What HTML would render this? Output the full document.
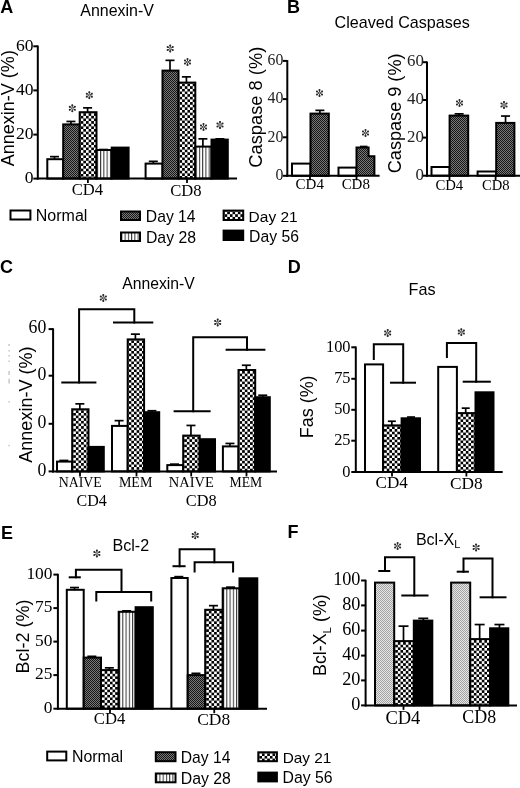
<!DOCTYPE html>
<html><head><meta charset="utf-8"><title>Figure</title>
<style>
html,body{margin:0;padding:0;background:#fff;}
body{width:520px;height:788px;overflow:hidden;font-family:"Liberation Sans",sans-serif;}
svg{display:block;will-change:transform;}
</style></head>
<body>
<svg width="520" height="788" viewBox="0 0 520 788">
<rect width="520" height="788" fill="#fff"/>
<defs>
<pattern id="p14" width="2" height="2" patternUnits="userSpaceOnUse">
  <rect width="2" height="2" fill="#787878"/><rect width="1" height="1" fill="#161616"/><rect x="1" y="1" width="1" height="1" fill="#161616"/>
</pattern>
<pattern id="p21" width="5.2" height="5.2" patternUnits="userSpaceOnUse">
  <rect width="5.2" height="5.2" fill="#000"/><rect x="0.3" y="0.3" width="2.1" height="2.1" fill="#fff"/><rect x="2.9" y="2.9" width="2.1" height="2.1" fill="#fff"/>
</pattern>
<pattern id="p21b" width="6" height="6" patternUnits="userSpaceOnUse">
  <rect width="6" height="6" fill="#000"/><rect x="0.3" y="0.3" width="2.5" height="2.5" fill="#fff"/><rect x="3.3" y="3.3" width="2.5" height="2.5" fill="#fff"/>
</pattern>
<pattern id="p28" width="3.3" height="4" patternUnits="userSpaceOnUse">
  <rect width="3.3" height="4" fill="#fff"/><rect x="0" width="1.1" height="4" fill="#222"/>
</pattern>
<pattern id="pg" width="2" height="2" patternUnits="userSpaceOnUse">
  <rect width="2" height="2" fill="#e4e4e4"/><rect width="1" height="1" fill="#a4a4a4"/><rect x="1" y="1" width="1" height="1" fill="#a4a4a4"/>
</pattern>
</defs>
<text id="lA" x="0.35" y="12.65" font-family='"Liberation Sans", sans-serif' font-size="18.00" text-anchor="start" font-weight="bold" fill="#000">A</text>
<text id="tA" x="80.31" y="16.06" font-family='"Liberation Sans", sans-serif' font-size="15.96" text-anchor="start" font-weight="normal" fill="#000">Annexin-V</text>
<text id="yA" transform="translate(13.50,166.26) rotate(-90)" font-family='"Liberation Sans", sans-serif' font-size="18.02" fill="#000">Annexin-V (%)</text>
<rect x="47.30" y="159.20" width="15.90" height="19.40" fill="#fff" stroke="#000" stroke-width="2.0"/>
<line x1="54.5" y1="159.6" x2="54.5" y2="156.65" stroke="#000" stroke-width="1.7"/>
<line x1="50.0" y1="156.65" x2="59.0" y2="156.65" stroke="#000" stroke-width="1.7"/>
<rect x="63.20" y="124.40" width="16.50" height="54.20" fill="url(#p14)" stroke="#000" stroke-width="2.0"/>
<line x1="70.95" y1="124.8" x2="70.95" y2="121.44999999999999" stroke="#000" stroke-width="1.7"/>
<line x1="66.45" y1="121.44999999999999" x2="75.45" y2="121.44999999999999" stroke="#000" stroke-width="1.7"/>
<pattern id="pc1" x="80.70" y="113.20" width="5.28" height="5.28" patternUnits="userSpaceOnUse"><rect width="5.28" height="5.28" fill="#000"/><rect width="2.64" height="2.64" fill="#fff"/><rect x="2.64" y="2.64" width="2.64" height="2.64" fill="#fff"/></pattern>
<rect x="79.70" y="112.20" width="16.80" height="66.40" fill="url(#pc1)" stroke="#000" stroke-width="2.0"/>
<line x1="87.6" y1="112.6" x2="87.6" y2="107.85" stroke="#000" stroke-width="1.7"/>
<line x1="83.1" y1="107.85" x2="92.1" y2="107.85" stroke="#000" stroke-width="1.7"/>
<pattern id="pc2" x="100.10" y="0" width="3.25" height="4" patternUnits="userSpaceOnUse"><rect width="3.25" height="4" fill="#fff"/><rect width="1.05" height="4" fill="#3a3a3a"/></pattern>
<rect x="96.50" y="150.00" width="15.20" height="28.60" fill="url(#pc2)" stroke="#000" stroke-width="2.0"/>
<line x1="103.6" y1="150.4" x2="103.6" y2="149.54999999999998" stroke="#000" stroke-width="1.7"/>
<line x1="99.1" y1="149.54999999999998" x2="108.1" y2="149.54999999999998" stroke="#000" stroke-width="1.7"/>
<rect x="111.70" y="147.60" width="16.90" height="31.00" fill="#000" stroke="#000" stroke-width="2.0"/>
<rect x="145.60" y="163.60" width="16.90" height="15.00" fill="#fff" stroke="#000" stroke-width="2.0"/>
<line x1="153.3" y1="164.0" x2="153.3" y2="161.35" stroke="#000" stroke-width="1.7"/>
<line x1="148.8" y1="161.35" x2="157.8" y2="161.35" stroke="#000" stroke-width="1.7"/>
<rect x="162.50" y="70.60" width="16.00" height="108.00" fill="url(#p14)" stroke="#000" stroke-width="2.0"/>
<line x1="170.0" y1="71.0" x2="170.0" y2="60.35" stroke="#000" stroke-width="1.7"/>
<line x1="165.5" y1="60.35" x2="174.5" y2="60.35" stroke="#000" stroke-width="1.7"/>
<pattern id="pc3" x="179.50" y="83.60" width="5.28" height="5.28" patternUnits="userSpaceOnUse"><rect width="5.28" height="5.28" fill="#000"/><rect width="2.64" height="2.64" fill="#fff"/><rect x="2.64" y="2.64" width="2.64" height="2.64" fill="#fff"/></pattern>
<rect x="178.50" y="82.60" width="16.80" height="96.00" fill="url(#pc3)" stroke="#000" stroke-width="2.0"/>
<line x1="186.4" y1="83.0" x2="186.4" y2="76.85" stroke="#000" stroke-width="1.7"/>
<line x1="181.9" y1="76.85" x2="190.9" y2="76.85" stroke="#000" stroke-width="1.7"/>
<pattern id="pc4" x="198.90" y="0" width="3.25" height="4" patternUnits="userSpaceOnUse"><rect width="3.25" height="4" fill="#fff"/><rect width="1.05" height="4" fill="#3a3a3a"/></pattern>
<rect x="195.30" y="146.60" width="16.20" height="32.00" fill="url(#pc4)" stroke="#000" stroke-width="2.0"/>
<line x1="202.9" y1="147.0" x2="202.9" y2="138.85" stroke="#000" stroke-width="1.7"/>
<line x1="198.4" y1="138.85" x2="207.4" y2="138.85" stroke="#000" stroke-width="1.7"/>
<rect x="211.50" y="139.60" width="16.30" height="39.00" fill="#000" stroke="#000" stroke-width="2.0"/>
<line x1="219.9" y1="140.0" x2="219.9" y2="138.85" stroke="#000" stroke-width="1.7"/>
<line x1="215.4" y1="138.85" x2="224.4" y2="138.85" stroke="#000" stroke-width="1.7"/>
<line x1="37" y1="178.6" x2="237" y2="178.6" stroke="#000" stroke-width="2.0"/>
<line x1="37.8" y1="45.5" x2="37.8" y2="179.6" stroke="#000" stroke-width="2.0"/>
<line x1="33.3" y1="46.3" x2="37.8" y2="46.3" stroke="#000" stroke-width="2.0"/>
<text id="axA_0" x="33.64" y="50.63" font-family='"Liberation Serif", serif' font-size="17.57" text-anchor="end" fill="#000">60</text>
<line x1="33.3" y1="90.4" x2="37.8" y2="90.4" stroke="#000" stroke-width="2.0"/>
<text id="axA_1" x="33.64" y="94.73" font-family='"Liberation Serif", serif' font-size="17.57" text-anchor="end" fill="#000">40</text>
<line x1="33.3" y1="134.6" x2="37.8" y2="134.6" stroke="#000" stroke-width="2.0"/>
<text id="axA_2" x="33.64" y="138.93" font-family='"Liberation Serif", serif' font-size="17.57" text-anchor="end" fill="#000">20</text>
<line x1="33.3" y1="178.6" x2="37.8" y2="178.6" stroke="#000" stroke-width="2.0"/>
<text id="axA_3" x="33.64" y="182.93" font-family='"Liberation Serif", serif' font-size="17.57" text-anchor="end" fill="#000">0</text>
<line x1="87.9" y1="178.6" x2="87.9" y2="183.1" stroke="#000" stroke-width="1.8"/>
<line x1="187" y1="178.6" x2="187" y2="183.1" stroke="#000" stroke-width="1.8"/>
<text id="xA4" x="87.48" y="195.19" font-family='"Liberation Serif", serif' font-size="16.60" text-anchor="middle" font-weight="normal" fill="#000">CD4</text>
<text id="xA8" x="185.99" y="195.50" font-family='"Liberation Serif", serif' font-size="16.60" text-anchor="middle" font-weight="normal" fill="#000">CD8</text>
<g><path d="M72.30,107.80L72.30,104.70M72.73,108.05L75.42,106.50M72.73,108.55L75.42,110.10M72.30,108.80L72.30,111.90M71.87,108.55L69.18,110.10M71.87,108.05L69.18,106.50" stroke="#2a2a2a" stroke-width="0.85" fill="none"/><circle cx="72.30" cy="105.40" r="1.05" fill="#2a2a2a"/><circle cx="74.81" cy="106.85" r="1.05" fill="#2a2a2a"/><circle cx="74.81" cy="109.75" r="1.05" fill="#2a2a2a"/><circle cx="72.30" cy="111.20" r="1.05" fill="#2a2a2a"/><circle cx="69.79" cy="109.75" r="1.05" fill="#2a2a2a"/><circle cx="69.79" cy="106.85" r="1.05" fill="#2a2a2a"/></g>
<g><path d="M89.30,94.70L89.30,91.60M89.73,94.95L92.42,93.40M89.73,95.45L92.42,97.00M89.30,95.70L89.30,98.80M88.87,95.45L86.18,97.00M88.87,94.95L86.18,93.40" stroke="#2a2a2a" stroke-width="0.85" fill="none"/><circle cx="89.30" cy="92.30" r="1.05" fill="#2a2a2a"/><circle cx="91.81" cy="93.75" r="1.05" fill="#2a2a2a"/><circle cx="91.81" cy="96.65" r="1.05" fill="#2a2a2a"/><circle cx="89.30" cy="98.10" r="1.05" fill="#2a2a2a"/><circle cx="86.79" cy="96.65" r="1.05" fill="#2a2a2a"/><circle cx="86.79" cy="93.75" r="1.05" fill="#2a2a2a"/></g>
<g><path d="M170.20,48.00L170.20,44.90M170.63,48.25L173.32,46.70M170.63,48.75L173.32,50.30M170.20,49.00L170.20,52.10M169.77,48.75L167.08,50.30M169.77,48.25L167.08,46.70" stroke="#2a2a2a" stroke-width="0.85" fill="none"/><circle cx="170.20" cy="45.60" r="1.05" fill="#2a2a2a"/><circle cx="172.71" cy="47.05" r="1.05" fill="#2a2a2a"/><circle cx="172.71" cy="49.95" r="1.05" fill="#2a2a2a"/><circle cx="170.20" cy="51.40" r="1.05" fill="#2a2a2a"/><circle cx="167.69" cy="49.95" r="1.05" fill="#2a2a2a"/><circle cx="167.69" cy="47.05" r="1.05" fill="#2a2a2a"/></g>
<g><path d="M187.50,61.50L187.50,58.40M187.93,61.75L190.62,60.20M187.93,62.25L190.62,63.80M187.50,62.50L187.50,65.60M187.07,62.25L184.38,63.80M187.07,61.75L184.38,60.20" stroke="#2a2a2a" stroke-width="0.85" fill="none"/><circle cx="187.50" cy="59.10" r="1.05" fill="#2a2a2a"/><circle cx="190.01" cy="60.55" r="1.05" fill="#2a2a2a"/><circle cx="190.01" cy="63.45" r="1.05" fill="#2a2a2a"/><circle cx="187.50" cy="64.90" r="1.05" fill="#2a2a2a"/><circle cx="184.99" cy="63.45" r="1.05" fill="#2a2a2a"/><circle cx="184.99" cy="60.55" r="1.05" fill="#2a2a2a"/></g>
<g><path d="M203.50,126.50L203.50,123.40M203.93,126.75L206.62,125.20M203.93,127.25L206.62,128.80M203.50,127.50L203.50,130.60M203.07,127.25L200.38,128.80M203.07,126.75L200.38,125.20" stroke="#2a2a2a" stroke-width="0.85" fill="none"/><circle cx="203.50" cy="124.10" r="1.05" fill="#2a2a2a"/><circle cx="206.01" cy="125.55" r="1.05" fill="#2a2a2a"/><circle cx="206.01" cy="128.45" r="1.05" fill="#2a2a2a"/><circle cx="203.50" cy="129.90" r="1.05" fill="#2a2a2a"/><circle cx="200.99" cy="128.45" r="1.05" fill="#2a2a2a"/><circle cx="200.99" cy="125.55" r="1.05" fill="#2a2a2a"/></g>
<g><path d="M220.00,124.50L220.00,121.40M220.43,124.75L223.12,123.20M220.43,125.25L223.12,126.80M220.00,125.50L220.00,128.60M219.57,125.25L216.88,126.80M219.57,124.75L216.88,123.20" stroke="#2a2a2a" stroke-width="0.85" fill="none"/><circle cx="220.00" cy="122.10" r="1.05" fill="#2a2a2a"/><circle cx="222.51" cy="123.55" r="1.05" fill="#2a2a2a"/><circle cx="222.51" cy="126.45" r="1.05" fill="#2a2a2a"/><circle cx="220.00" cy="127.90" r="1.05" fill="#2a2a2a"/><circle cx="217.49" cy="126.45" r="1.05" fill="#2a2a2a"/><circle cx="217.49" cy="123.55" r="1.05" fill="#2a2a2a"/></g>
<rect x="10.50" y="210.50" width="19.90" height="9.00" fill="#fff" stroke="#000" stroke-width="2"/>
<text id="LA1" x="35.81" y="221.12" font-family='"Liberation Sans", sans-serif' font-size="16.01" text-anchor="start" font-weight="normal" fill="#000">Normal</text>
<rect x="121.00" y="211.50" width="19.00" height="8.50" fill="url(#p14)" stroke="#000" stroke-width="2"/>
<text id="LA2" x="145.86" y="221.50" font-family='"Liberation Sans", sans-serif' font-size="15.70" text-anchor="start" font-weight="normal" fill="#000">Day 14</text>
<pattern id="pc5" x="124.60" y="0" width="3.25" height="4" patternUnits="userSpaceOnUse"><rect width="3.25" height="4" fill="#fff"/><rect width="1.05" height="4" fill="#3a3a3a"/></pattern>
<rect x="121.00" y="232.50" width="19.00" height="8.50" fill="url(#pc5)" stroke="#000" stroke-width="2"/>
<text id="LA3" x="145.97" y="243.20" font-family='"Liberation Sans", sans-serif' font-size="15.79" text-anchor="start" font-weight="normal" fill="#000">Day 28</text>
<pattern id="pc6" x="224.60" y="211.60" width="5.28" height="5.28" patternUnits="userSpaceOnUse"><rect width="5.28" height="5.28" fill="#000"/><rect width="2.64" height="2.64" fill="#fff"/><rect x="2.64" y="2.64" width="2.64" height="2.64" fill="#fff"/></pattern>
<rect x="223.60" y="210.60" width="19.60" height="9.40" fill="url(#pc6)" stroke="#000" stroke-width="2"/>
<text id="LA4" x="248.62" y="221.50" font-family='"Liberation Sans", sans-serif' font-size="15.48" text-anchor="start" font-weight="normal" fill="#000">Day 21</text>
<rect x="223.60" y="230.60" width="19.60" height="9.40" fill="#000" stroke="#000" stroke-width="2"/>
<text id="LA5" x="249.04" y="241.70" font-family='"Liberation Sans", sans-serif' font-size="15.74" text-anchor="start" font-weight="normal" fill="#000">Day 56</text>
<text id="lB" x="287.01" y="12.67" font-family='"Liberation Sans", sans-serif' font-size="18.00" text-anchor="start" font-weight="bold" fill="#000">B</text>
<text id="tB" x="334.61" y="28.22" font-family='"Liberation Sans", sans-serif' font-size="16.10" text-anchor="start" font-weight="normal" fill="#000">Cleaved Caspases</text>
<text id="yB8" transform="translate(262.30,167.69) rotate(-90)" font-family='"Liberation Sans", sans-serif' font-size="18.29" fill="#000">Caspase 8 (%)</text>
<rect x="292.00" y="163.60" width="18.50" height="12.20" fill="#fff" stroke="#000" stroke-width="2.0"/>
<rect x="310.50" y="113.60" width="18.30" height="62.20" fill="url(#p14)" stroke="#000" stroke-width="2.0"/>
<line x1="319.9" y1="114" x2="319.9" y2="110.35" stroke="#000" stroke-width="1.7"/>
<line x1="315.4" y1="110.35" x2="324.4" y2="110.35" stroke="#000" stroke-width="1.7"/>
<rect x="338.50" y="167.60" width="18.00" height="8.20" fill="#fff" stroke="#000" stroke-width="2.0"/>
<path d="M356.5,175.8 L356.5,147.4 L368.6,147.4 L368.6,156.2 L374.4,156.2 L374.4,175.8" fill="url(#p14)" stroke="#000" stroke-width="2.0"/>
<line x1="360" y1="146.3" x2="367.5" y2="146.3" stroke="#000" stroke-width="1.3"/>
<line x1="286" y1="175.8" x2="379.6" y2="175.8" stroke="#000" stroke-width="2.0"/>
<line x1="287.3" y1="60.1" x2="287.3" y2="176.8" stroke="#000" stroke-width="2.0"/>
<line x1="282.8" y1="60.9" x2="287.3" y2="60.9" stroke="#000" stroke-width="2.0"/>
<text id="axB8_0" x="283.33" y="65.10" font-family='"Liberation Serif", serif' font-size="15.80" text-anchor="end" fill="#222">60</text>
<line x1="282.8" y1="99.1" x2="287.3" y2="99.1" stroke="#000" stroke-width="2.0"/>
<text id="axB8_1" x="283.33" y="103.30" font-family='"Liberation Serif", serif' font-size="15.80" text-anchor="end" fill="#222">40</text>
<line x1="282.8" y1="137.3" x2="287.3" y2="137.3" stroke="#000" stroke-width="2.0"/>
<text id="axB8_2" x="283.33" y="141.50" font-family='"Liberation Serif", serif' font-size="15.80" text-anchor="end" fill="#222">20</text>
<line x1="282.8" y1="175.8" x2="287.3" y2="175.8" stroke="#000" stroke-width="2.0"/>
<text id="axB8_3" x="283.33" y="180.00" font-family='"Liberation Serif", serif' font-size="15.80" text-anchor="end" fill="#222">0</text>
<line x1="310" y1="175.8" x2="310" y2="180.3" stroke="#000" stroke-width="1.8"/>
<line x1="356.5" y1="175.8" x2="356.5" y2="180.3" stroke="#000" stroke-width="1.8"/>
<text id="xB84" x="309.76" y="189.10" font-family='"Liberation Serif", serif' font-size="14.98" text-anchor="middle" font-weight="normal" fill="#000">CD4</text>
<text id="xB88" x="355.77" y="189.10" font-family='"Liberation Serif", serif' font-size="14.96" text-anchor="middle" font-weight="normal" fill="#000">CD8</text>
<g><path d="M319.50,92.50L319.50,89.40M319.93,92.75L322.62,91.20M319.93,93.25L322.62,94.80M319.50,93.50L319.50,96.60M319.07,93.25L316.38,94.80M319.07,92.75L316.38,91.20" stroke="#2a2a2a" stroke-width="0.85" fill="none"/><circle cx="319.50" cy="90.10" r="1.05" fill="#2a2a2a"/><circle cx="322.01" cy="91.55" r="1.05" fill="#2a2a2a"/><circle cx="322.01" cy="94.45" r="1.05" fill="#2a2a2a"/><circle cx="319.50" cy="95.90" r="1.05" fill="#2a2a2a"/><circle cx="316.99" cy="94.45" r="1.05" fill="#2a2a2a"/><circle cx="316.99" cy="91.55" r="1.05" fill="#2a2a2a"/></g>
<g><path d="M365.50,132.50L365.50,129.40M365.93,132.75L368.62,131.20M365.93,133.25L368.62,134.80M365.50,133.50L365.50,136.60M365.07,133.25L362.38,134.80M365.07,132.75L362.38,131.20" stroke="#2a2a2a" stroke-width="0.85" fill="none"/><circle cx="365.50" cy="130.10" r="1.05" fill="#2a2a2a"/><circle cx="368.01" cy="131.55" r="1.05" fill="#2a2a2a"/><circle cx="368.01" cy="134.45" r="1.05" fill="#2a2a2a"/><circle cx="365.50" cy="135.90" r="1.05" fill="#2a2a2a"/><circle cx="362.99" cy="134.45" r="1.05" fill="#2a2a2a"/><circle cx="362.99" cy="131.55" r="1.05" fill="#2a2a2a"/></g>
<text id="yB9" transform="translate(401.30,173.24) rotate(-90)" font-family='"Liberation Sans", sans-serif' font-size="18.11" fill="#000">Caspase 9 (%)</text>
<rect x="431.50" y="167.00" width="18.10" height="8.70" fill="#fff" stroke="#000" stroke-width="2.0"/>
<rect x="449.60" y="115.60" width="18.60" height="60.10" fill="url(#p14)" stroke="#000" stroke-width="2.0"/>
<line x1="459.15" y1="116" x2="459.15" y2="113.85" stroke="#000" stroke-width="1.7"/>
<line x1="454.65" y1="113.85" x2="463.65" y2="113.85" stroke="#000" stroke-width="1.7"/>
<rect x="477.60" y="171.50" width="18.60" height="4.20" fill="#fff" stroke="#000" stroke-width="2.0"/>
<rect x="496.20" y="122.90" width="18.20" height="52.80" fill="url(#p14)" stroke="#000" stroke-width="2.0"/>
<line x1="505.54999999999995" y1="123.3" x2="505.54999999999995" y2="116.05" stroke="#000" stroke-width="1.7"/>
<line x1="501.04999999999995" y1="116.05" x2="510.04999999999995" y2="116.05" stroke="#000" stroke-width="1.7"/>
<line x1="426" y1="175.7" x2="520" y2="175.7" stroke="#000" stroke-width="2.0"/>
<line x1="427" y1="61.400000000000006" x2="427" y2="176.7" stroke="#000" stroke-width="2.0"/>
<line x1="422.5" y1="62.2" x2="427" y2="62.2" stroke="#000" stroke-width="2.0"/>
<text id="axB9_0" x="423.94" y="66.40" font-family='"Liberation Serif", serif' font-size="16.88" text-anchor="end" fill="#222">60</text>
<line x1="422.5" y1="100" x2="427" y2="100" stroke="#000" stroke-width="2.0"/>
<text id="axB9_1" x="423.94" y="104.20" font-family='"Liberation Serif", serif' font-size="16.88" text-anchor="end" fill="#222">40</text>
<line x1="422.5" y1="137.6" x2="427" y2="137.6" stroke="#000" stroke-width="2.0"/>
<text id="axB9_2" x="423.94" y="141.80" font-family='"Liberation Serif", serif' font-size="16.88" text-anchor="end" fill="#222">20</text>
<line x1="422.5" y1="175.7" x2="427" y2="175.7" stroke="#000" stroke-width="2.0"/>
<text id="axB9_3" x="423.94" y="179.90" font-family='"Liberation Serif", serif' font-size="16.88" text-anchor="end" fill="#222">0</text>
<line x1="449.5" y1="175.7" x2="449.5" y2="180.2" stroke="#000" stroke-width="1.8"/>
<line x1="495.6" y1="175.7" x2="495.6" y2="180.2" stroke="#000" stroke-width="1.8"/>
<text id="xB94" x="449.31" y="190.15" font-family='"Liberation Serif", serif' font-size="14.73" text-anchor="middle" font-weight="normal" fill="#000">CD4</text>
<text id="xB98" x="495.70" y="189.88" font-family='"Liberation Serif", serif' font-size="14.62" text-anchor="middle" font-weight="normal" fill="#000">CD8</text>
<g><path d="M459.50,102.50L459.50,99.40M459.93,102.75L462.62,101.20M459.93,103.25L462.62,104.80M459.50,103.50L459.50,106.60M459.07,103.25L456.38,104.80M459.07,102.75L456.38,101.20" stroke="#2a2a2a" stroke-width="0.85" fill="none"/><circle cx="459.50" cy="100.10" r="1.05" fill="#2a2a2a"/><circle cx="462.01" cy="101.55" r="1.05" fill="#2a2a2a"/><circle cx="462.01" cy="104.45" r="1.05" fill="#2a2a2a"/><circle cx="459.50" cy="105.90" r="1.05" fill="#2a2a2a"/><circle cx="456.99" cy="104.45" r="1.05" fill="#2a2a2a"/><circle cx="456.99" cy="101.55" r="1.05" fill="#2a2a2a"/></g>
<g><path d="M504.00,104.50L504.00,101.40M504.43,104.75L507.12,103.20M504.43,105.25L507.12,106.80M504.00,105.50L504.00,108.60M503.57,105.25L500.88,106.80M503.57,104.75L500.88,103.20" stroke="#2a2a2a" stroke-width="0.85" fill="none"/><circle cx="504.00" cy="102.10" r="1.05" fill="#2a2a2a"/><circle cx="506.51" cy="103.55" r="1.05" fill="#2a2a2a"/><circle cx="506.51" cy="106.45" r="1.05" fill="#2a2a2a"/><circle cx="504.00" cy="107.90" r="1.05" fill="#2a2a2a"/><circle cx="501.49" cy="106.45" r="1.05" fill="#2a2a2a"/><circle cx="501.49" cy="103.55" r="1.05" fill="#2a2a2a"/></g>
<text id="lC" x="0.10" y="272.68" font-family='"Liberation Sans", sans-serif' font-size="18.00" text-anchor="start" font-weight="bold" fill="#000">C</text>
<text id="tC" x="122.30" y="288.53" font-family='"Liberation Sans", sans-serif' font-size="15.72" text-anchor="start" font-weight="normal" fill="#000">Annexin-V</text>
<text id="yC" transform="translate(31.55,462.71) rotate(-90)" font-family='"Liberation Sans", sans-serif' font-size="18.05" fill="#000">Annexin-V (%)</text>
<line x1="9.1" y1="344" x2="9.1" y2="346" stroke="#c4c4c4" stroke-width="1.4"/>
<line x1="9.1" y1="350" x2="9.1" y2="351.5" stroke="#c4c4c4" stroke-width="1.4"/>
<line x1="9.1" y1="355" x2="9.1" y2="356.5" stroke="#c4c4c4" stroke-width="1.4"/>
<line x1="9.1" y1="360.5" x2="9.1" y2="362" stroke="#c4c4c4" stroke-width="1.4"/>
<line x1="9.1" y1="371" x2="9.1" y2="375" stroke="#c4c4c4" stroke-width="1.4"/>
<line x1="9.1" y1="378.7" x2="9.1" y2="383.6" stroke="#c4c4c4" stroke-width="1.4"/>
<line x1="9.1" y1="401" x2="9.1" y2="402.6" stroke="#c4c4c4" stroke-width="1.4"/>
<line x1="9.1" y1="444.7" x2="9.1" y2="446.3" stroke="#c4c4c4" stroke-width="1.4"/>
<rect x="57.00" y="461.60" width="15.20" height="9.80" fill="#fff" stroke="#000" stroke-width="2.0"/>
<line x1="63.85" y1="462.0" x2="63.85" y2="460.45000000000005" stroke="#000" stroke-width="1.7"/>
<line x1="59.35" y1="460.45000000000005" x2="68.35" y2="460.45000000000005" stroke="#000" stroke-width="1.7"/>
<pattern id="pc7" x="73.20" y="410.30" width="5.28" height="5.28" patternUnits="userSpaceOnUse"><rect width="5.28" height="5.28" fill="#000"/><rect width="2.64" height="2.64" fill="#fff"/><rect x="2.64" y="2.64" width="2.64" height="2.64" fill="#fff"/></pattern>
<rect x="72.20" y="409.30" width="16.30" height="62.10" fill="url(#pc7)" stroke="#000" stroke-width="2.0"/>
<line x1="79.85" y1="409.7" x2="79.85" y2="403.85" stroke="#000" stroke-width="1.7"/>
<line x1="75.35" y1="403.85" x2="84.35" y2="403.85" stroke="#000" stroke-width="1.7"/>
<rect x="88.50" y="446.90" width="15.30" height="24.50" fill="#000" stroke="#000" stroke-width="2.0"/>
<rect x="112.00" y="425.90" width="15.70" height="45.50" fill="#fff" stroke="#000" stroke-width="2.0"/>
<line x1="119.1" y1="426.3" x2="119.1" y2="420.65000000000003" stroke="#000" stroke-width="1.7"/>
<line x1="114.6" y1="420.65000000000003" x2="123.6" y2="420.65000000000003" stroke="#000" stroke-width="1.7"/>
<pattern id="pc8" x="128.70" y="340.40" width="5.28" height="5.28" patternUnits="userSpaceOnUse"><rect width="5.28" height="5.28" fill="#000"/><rect width="2.64" height="2.64" fill="#fff"/><rect x="2.64" y="2.64" width="2.64" height="2.64" fill="#fff"/></pattern>
<rect x="127.70" y="339.40" width="16.40" height="132.00" fill="url(#pc8)" stroke="#000" stroke-width="2.0"/>
<line x1="135.4" y1="339.8" x2="135.4" y2="334.15000000000003" stroke="#000" stroke-width="1.7"/>
<line x1="130.9" y1="334.15000000000003" x2="139.9" y2="334.15000000000003" stroke="#000" stroke-width="1.7"/>
<rect x="144.10" y="412.20" width="15.10" height="59.20" fill="#000" stroke="#000" stroke-width="2.0"/>
<line x1="151.89999999999998" y1="412.6" x2="151.89999999999998" y2="410.75" stroke="#000" stroke-width="1.7"/>
<line x1="147.39999999999998" y1="410.75" x2="156.39999999999998" y2="410.75" stroke="#000" stroke-width="1.7"/>
<rect x="167.30" y="465.10" width="15.90" height="6.30" fill="#fff" stroke="#000" stroke-width="2.0"/>
<line x1="174.5" y1="465.5" x2="174.5" y2="464.15000000000003" stroke="#000" stroke-width="1.7"/>
<line x1="170.0" y1="464.15000000000003" x2="179.0" y2="464.15000000000003" stroke="#000" stroke-width="1.7"/>
<pattern id="pc9" x="184.20" y="436.60" width="5.28" height="5.28" patternUnits="userSpaceOnUse"><rect width="5.28" height="5.28" fill="#000"/><rect width="2.64" height="2.64" fill="#fff"/><rect x="2.64" y="2.64" width="2.64" height="2.64" fill="#fff"/></pattern>
<rect x="183.20" y="435.60" width="16.50" height="35.80" fill="url(#pc9)" stroke="#000" stroke-width="2.0"/>
<line x1="190.95" y1="436.0" x2="190.95" y2="425.45000000000005" stroke="#000" stroke-width="1.7"/>
<line x1="186.45" y1="425.45000000000005" x2="195.45" y2="425.45000000000005" stroke="#000" stroke-width="1.7"/>
<rect x="199.70" y="439.20" width="15.30" height="32.20" fill="#000" stroke="#000" stroke-width="2.0"/>
<rect x="222.90" y="446.40" width="15.60" height="25.00" fill="#fff" stroke="#000" stroke-width="2.0"/>
<line x1="229.95" y1="446.8" x2="229.95" y2="443.45000000000005" stroke="#000" stroke-width="1.7"/>
<line x1="225.45" y1="443.45000000000005" x2="234.45" y2="443.45000000000005" stroke="#000" stroke-width="1.7"/>
<pattern id="pc10" x="239.50" y="371.00" width="5.28" height="5.28" patternUnits="userSpaceOnUse"><rect width="5.28" height="5.28" fill="#000"/><rect width="2.64" height="2.64" fill="#fff"/><rect x="2.64" y="2.64" width="2.64" height="2.64" fill="#fff"/></pattern>
<rect x="238.50" y="370.00" width="16.70" height="101.40" fill="url(#pc10)" stroke="#000" stroke-width="2.0"/>
<line x1="246.35" y1="370.4" x2="246.35" y2="365.25" stroke="#000" stroke-width="1.7"/>
<line x1="241.85" y1="365.25" x2="250.85" y2="365.25" stroke="#000" stroke-width="1.7"/>
<rect x="255.20" y="397.20" width="14.60" height="74.20" fill="#000" stroke="#000" stroke-width="2.0"/>
<line x1="262.75" y1="397.6" x2="262.75" y2="395.25" stroke="#000" stroke-width="1.7"/>
<line x1="258.25" y1="395.25" x2="267.25" y2="395.25" stroke="#000" stroke-width="1.7"/>
<line x1="52" y1="471.4" x2="277" y2="471.4" stroke="#000" stroke-width="2.0"/>
<line x1="53.1" y1="328.3" x2="53.1" y2="472.4" stroke="#000" stroke-width="2.0"/>
<line x1="48.6" y1="329.1" x2="53.1" y2="329.1" stroke="#000" stroke-width="2.0"/>
<text id="axC_0" x="46.31" y="333.30" font-family='"Liberation Serif", serif' font-size="17.78" text-anchor="end" fill="#000">60</text>
<line x1="48.6" y1="375.7" x2="53.1" y2="375.7" stroke="#000" stroke-width="2.0"/>
<text id="axC_1" x="46.31" y="379.90" font-family='"Liberation Serif", serif' font-size="17.78" text-anchor="end" fill="#000">0</text>
<line x1="48.6" y1="423.8" x2="53.1" y2="423.8" stroke="#000" stroke-width="2.0"/>
<text id="axC_2" x="46.31" y="428.00" font-family='"Liberation Serif", serif' font-size="17.78" text-anchor="end" fill="#000">0</text>
<line x1="48.6" y1="471.4" x2="53.1" y2="471.4" stroke="#000" stroke-width="2.0"/>
<text id="axC_3" x="46.31" y="475.60" font-family='"Liberation Serif", serif' font-size="17.78" text-anchor="end" fill="#000">0</text>
<line x1="80" y1="471.4" x2="80" y2="476.4" stroke="#000" stroke-width="1.8"/>
<line x1="136.5" y1="471.4" x2="136.5" y2="476.4" stroke="#000" stroke-width="1.8"/>
<line x1="191.2" y1="471.4" x2="191.2" y2="476.4" stroke="#000" stroke-width="1.8"/>
<line x1="246.5" y1="471.4" x2="246.5" y2="476.4" stroke="#000" stroke-width="1.8"/>
<text id="xC1" x="80.27" y="486.60" font-family='"Liberation Serif", serif' font-size="13.88" text-anchor="middle" font-weight="normal" fill="#000">NAIVE</text>
<text id="xC2" x="135.64" y="486.60" font-family='"Liberation Serif", serif' font-size="13.99" text-anchor="middle" font-weight="normal" fill="#000">MEM</text>
<text id="xC3" x="191.27" y="486.56" font-family='"Liberation Serif", serif' font-size="14.46" text-anchor="middle" font-weight="normal" fill="#000">NAIVE</text>
<text id="xC4" x="245.89" y="486.68" font-family='"Liberation Serif", serif' font-size="13.71" text-anchor="middle" font-weight="normal" fill="#000">MEM</text>
<text id="xC5" x="91.60" y="505.58" font-family='"Liberation Serif", serif' font-size="16.00" text-anchor="middle" font-weight="normal" fill="#000">CD4</text>
<text id="xC6" x="201.23" y="505.72" font-family='"Liberation Serif", serif' font-size="16.33" text-anchor="middle" font-weight="normal" fill="#000">CD8</text>
<line x1="61.3" y1="382.6" x2="96.4" y2="382.6" stroke="#000" stroke-width="2.0"/>
<polyline points="79.1,382.6 79.1,309.3 134.3,309.3 134.3,322.5" fill="none" stroke="#000" stroke-width="2.0" stroke-linejoin="miter" stroke-linecap="square"/>
<line x1="113" y1="322.5" x2="153.3" y2="322.5" stroke="#000" stroke-width="2.0"/>
<line x1="173.6" y1="411.3" x2="210.6" y2="411.3" stroke="#000" stroke-width="2.0"/>
<polyline points="193.2,411.3 193.2,337.2 247.0,337.2 247.0,349.8" fill="none" stroke="#000" stroke-width="2.0" stroke-linejoin="miter" stroke-linecap="square"/>
<line x1="225.6" y1="349.8" x2="265.4" y2="349.8" stroke="#000" stroke-width="2.0"/>
<g><path d="M103.30,297.50L103.30,294.40M103.73,297.75L106.42,296.20M103.73,298.25L106.42,299.80M103.30,298.50L103.30,301.60M102.87,298.25L100.18,299.80M102.87,297.75L100.18,296.20" stroke="#2a2a2a" stroke-width="0.85" fill="none"/><circle cx="103.30" cy="295.10" r="1.05" fill="#2a2a2a"/><circle cx="105.81" cy="296.55" r="1.05" fill="#2a2a2a"/><circle cx="105.81" cy="299.45" r="1.05" fill="#2a2a2a"/><circle cx="103.30" cy="300.90" r="1.05" fill="#2a2a2a"/><circle cx="100.79" cy="299.45" r="1.05" fill="#2a2a2a"/><circle cx="100.79" cy="296.55" r="1.05" fill="#2a2a2a"/></g>
<g><path d="M217.70,322.00L217.70,318.90M218.13,322.25L220.82,320.70M218.13,322.75L220.82,324.30M217.70,323.00L217.70,326.10M217.27,322.75L214.58,324.30M217.27,322.25L214.58,320.70" stroke="#2a2a2a" stroke-width="0.85" fill="none"/><circle cx="217.70" cy="319.60" r="1.05" fill="#2a2a2a"/><circle cx="220.21" cy="321.05" r="1.05" fill="#2a2a2a"/><circle cx="220.21" cy="323.95" r="1.05" fill="#2a2a2a"/><circle cx="217.70" cy="325.40" r="1.05" fill="#2a2a2a"/><circle cx="215.19" cy="323.95" r="1.05" fill="#2a2a2a"/><circle cx="215.19" cy="321.05" r="1.05" fill="#2a2a2a"/></g>
<text id="lD" x="287.65" y="272.89" font-family='"Liberation Sans", sans-serif' font-size="18.00" text-anchor="start" font-weight="bold" fill="#000">D</text>
<text id="tD" x="408.58" y="295.37" font-family='"Liberation Sans", sans-serif' font-size="16.20" text-anchor="start" font-weight="normal" fill="#000">Fas</text>
<text id="yD" transform="translate(313.44,438.21) rotate(-90)" font-family='"Liberation Sans", sans-serif' font-size="17.94" fill="#000">Fas (%)</text>
<rect x="365.00" y="364.40" width="18.10" height="107.60" fill="#fff" stroke="#000" stroke-width="2.0"/>
<pattern id="pc11" x="384.10" y="426.40" width="5.28" height="5.28" patternUnits="userSpaceOnUse"><rect width="5.28" height="5.28" fill="#000"/><rect width="2.64" height="2.64" fill="#fff"/><rect x="2.64" y="2.64" width="2.64" height="2.64" fill="#fff"/></pattern>
<rect x="383.10" y="425.40" width="18.50" height="46.60" fill="url(#pc11)" stroke="#000" stroke-width="2.0"/>
<line x1="391.85" y1="425.8" x2="391.85" y2="421.25" stroke="#000" stroke-width="1.7"/>
<line x1="387.85" y1="421.25" x2="395.85" y2="421.25" stroke="#000" stroke-width="1.7"/>
<rect x="401.60" y="418.30" width="18.40" height="53.70" fill="#000" stroke="#000" stroke-width="2.0"/>
<line x1="411.05" y1="418.7" x2="411.05" y2="417.05" stroke="#000" stroke-width="1.7"/>
<line x1="407.05" y1="417.05" x2="415.05" y2="417.05" stroke="#000" stroke-width="1.7"/>
<rect x="438.20" y="366.90" width="18.70" height="105.10" fill="#fff" stroke="#000" stroke-width="2.0"/>
<pattern id="pc12" x="457.90" y="414.10" width="5.28" height="5.28" patternUnits="userSpaceOnUse"><rect width="5.28" height="5.28" fill="#000"/><rect width="2.64" height="2.64" fill="#fff"/><rect x="2.64" y="2.64" width="2.64" height="2.64" fill="#fff"/></pattern>
<rect x="456.90" y="413.10" width="18.60" height="58.90" fill="url(#pc12)" stroke="#000" stroke-width="2.0"/>
<line x1="465.7" y1="413.5" x2="465.7" y2="408.15000000000003" stroke="#000" stroke-width="1.7"/>
<line x1="461.7" y1="408.15000000000003" x2="469.7" y2="408.15000000000003" stroke="#000" stroke-width="1.7"/>
<rect x="475.50" y="392.30" width="18.00" height="79.70" fill="#000" stroke="#000" stroke-width="2.0"/>
<line x1="355" y1="472.0" x2="502.7" y2="472.0" stroke="#000" stroke-width="2.0"/>
<line x1="355.8" y1="346.5" x2="355.8" y2="473.0" stroke="#000" stroke-width="2.0"/>
<line x1="351.3" y1="347.3" x2="355.8" y2="347.3" stroke="#000" stroke-width="2.0"/>
<text id="axD_0" x="350.55" y="351.89" font-family='"Liberation Serif", serif' font-size="16.39" text-anchor="end" fill="#000">100</text>
<line x1="351.3" y1="378.8" x2="355.8" y2="378.8" stroke="#000" stroke-width="2.0"/>
<text id="axD_1" x="350.55" y="383.39" font-family='"Liberation Serif", serif' font-size="16.39" text-anchor="end" fill="#000">75</text>
<line x1="351.3" y1="409.8" x2="355.8" y2="409.8" stroke="#000" stroke-width="2.0"/>
<text id="axD_2" x="350.55" y="414.39" font-family='"Liberation Serif", serif' font-size="16.39" text-anchor="end" fill="#000">50</text>
<line x1="351.3" y1="440.7" x2="355.8" y2="440.7" stroke="#000" stroke-width="2.0"/>
<text id="axD_3" x="350.55" y="445.29" font-family='"Liberation Serif", serif' font-size="16.39" text-anchor="end" fill="#000">25</text>
<line x1="351.3" y1="472.0" x2="355.8" y2="472.0" stroke="#000" stroke-width="2.0"/>
<text id="axD_4" x="350.55" y="476.59" font-family='"Liberation Serif", serif' font-size="16.39" text-anchor="end" fill="#000">0</text>
<line x1="392" y1="472.0" x2="392" y2="476.5" stroke="#000" stroke-width="1.8"/>
<line x1="466.4" y1="472.0" x2="466.4" y2="476.5" stroke="#000" stroke-width="1.8"/>
<text id="xD4" x="391.64" y="488.28" font-family='"Liberation Serif", serif' font-size="17.10" text-anchor="middle" font-weight="normal" fill="#000">CD4</text>
<text id="xD8" x="466.33" y="488.85" font-family='"Liberation Serif", serif' font-size="17.32" text-anchor="middle" font-weight="normal" fill="#000">CD8</text>
<polyline points="373.8,358.9 373.8,344.2 403.2,344.2 403.2,382.7" fill="none" stroke="#000" stroke-width="2.0" stroke-linejoin="miter" stroke-linecap="square"/>
<line x1="390" y1="382.7" x2="416" y2="382.7" stroke="#000" stroke-width="2.0"/>
<polyline points="446.9,357.1 446.9,343.1 476.2,343.1 476.2,381.7" fill="none" stroke="#000" stroke-width="2.0" stroke-linejoin="miter" stroke-linecap="square"/>
<line x1="462.7" y1="381.7" x2="490.8" y2="381.7" stroke="#000" stroke-width="2.0"/>
<g><path d="M387.70,332.50L387.70,329.40M388.13,332.75L390.82,331.20M388.13,333.25L390.82,334.80M387.70,333.50L387.70,336.60M387.27,333.25L384.58,334.80M387.27,332.75L384.58,331.20" stroke="#2a2a2a" stroke-width="0.85" fill="none"/><circle cx="387.70" cy="330.10" r="1.05" fill="#2a2a2a"/><circle cx="390.21" cy="331.55" r="1.05" fill="#2a2a2a"/><circle cx="390.21" cy="334.45" r="1.05" fill="#2a2a2a"/><circle cx="387.70" cy="335.90" r="1.05" fill="#2a2a2a"/><circle cx="385.19" cy="334.45" r="1.05" fill="#2a2a2a"/><circle cx="385.19" cy="331.55" r="1.05" fill="#2a2a2a"/></g>
<g><path d="M461.30,331.60L461.30,328.50M461.73,331.85L464.42,330.30M461.73,332.35L464.42,333.90M461.30,332.60L461.30,335.70M460.87,332.35L458.18,333.90M460.87,331.85L458.18,330.30" stroke="#2a2a2a" stroke-width="0.85" fill="none"/><circle cx="461.30" cy="329.20" r="1.05" fill="#2a2a2a"/><circle cx="463.81" cy="330.65" r="1.05" fill="#2a2a2a"/><circle cx="463.81" cy="333.55" r="1.05" fill="#2a2a2a"/><circle cx="461.30" cy="335.00" r="1.05" fill="#2a2a2a"/><circle cx="458.79" cy="333.55" r="1.05" fill="#2a2a2a"/><circle cx="458.79" cy="330.65" r="1.05" fill="#2a2a2a"/></g>
<text id="lE" x="1.08" y="538.68" font-family='"Liberation Sans", sans-serif' font-size="18.00" text-anchor="start" font-weight="bold" fill="#000">E</text>
<text id="tE" x="112.45" y="551.48" font-family='"Liberation Sans", sans-serif' font-size="16.10" text-anchor="start" font-weight="normal" fill="#000">Bcl-2</text>
<text id="yE" transform="translate(28.75,673.59) rotate(-90)" font-family='"Liberation Sans", sans-serif' font-size="18.01" fill="#000">Bcl-2 (%)</text>
<rect x="66.80" y="589.80" width="16.90" height="118.90" fill="#fff" stroke="#000" stroke-width="2.0"/>
<line x1="74.5" y1="590.2" x2="74.5" y2="587.5500000000001" stroke="#000" stroke-width="1.7"/>
<line x1="70.0" y1="587.5500000000001" x2="79.0" y2="587.5500000000001" stroke="#000" stroke-width="1.7"/>
<rect x="83.70" y="657.60" width="17.30" height="51.10" fill="url(#p14)" stroke="#000" stroke-width="2.0"/>
<line x1="91.85" y1="658.0" x2="91.85" y2="656.35" stroke="#000" stroke-width="1.7"/>
<line x1="87.35" y1="656.35" x2="96.35" y2="656.35" stroke="#000" stroke-width="1.7"/>
<pattern id="pc13" x="102.00" y="671.10" width="5.28" height="5.28" patternUnits="userSpaceOnUse"><rect width="5.28" height="5.28" fill="#000"/><rect width="2.64" height="2.64" fill="#fff"/><rect x="2.64" y="2.64" width="2.64" height="2.64" fill="#fff"/></pattern>
<rect x="101.00" y="670.10" width="17.70" height="38.60" fill="url(#pc13)" stroke="#000" stroke-width="2.0"/>
<line x1="109.35" y1="670.5" x2="109.35" y2="667.85" stroke="#000" stroke-width="1.7"/>
<line x1="104.85" y1="667.85" x2="113.85" y2="667.85" stroke="#000" stroke-width="1.7"/>
<pattern id="pc14" x="122.30" y="0" width="3.25" height="4" patternUnits="userSpaceOnUse"><rect width="3.25" height="4" fill="#fff"/><rect width="1.05" height="4" fill="#3a3a3a"/></pattern>
<rect x="118.70" y="611.80" width="16.90" height="96.90" fill="url(#pc14)" stroke="#000" stroke-width="2.0"/>
<line x1="126.65" y1="612.2" x2="126.65" y2="610.85" stroke="#000" stroke-width="1.7"/>
<line x1="122.15" y1="610.85" x2="131.15" y2="610.85" stroke="#000" stroke-width="1.7"/>
<rect x="135.60" y="607.20" width="17.20" height="101.50" fill="#000" stroke="#000" stroke-width="2.0"/>
<rect x="171.40" y="578.00" width="16.30" height="130.70" fill="#fff" stroke="#000" stroke-width="2.0"/>
<line x1="178.8" y1="578.4" x2="178.8" y2="576.65" stroke="#000" stroke-width="1.7"/>
<line x1="174.3" y1="576.65" x2="183.3" y2="576.65" stroke="#000" stroke-width="1.7"/>
<rect x="187.70" y="675.10" width="17.50" height="33.60" fill="url(#p14)" stroke="#000" stroke-width="2.0"/>
<line x1="195.95" y1="675.5" x2="195.95" y2="673.35" stroke="#000" stroke-width="1.7"/>
<line x1="191.45" y1="673.35" x2="200.45" y2="673.35" stroke="#000" stroke-width="1.7"/>
<pattern id="pc15" x="206.20" y="610.80" width="5.28" height="5.28" patternUnits="userSpaceOnUse"><rect width="5.28" height="5.28" fill="#000"/><rect width="2.64" height="2.64" fill="#fff"/><rect x="2.64" y="2.64" width="2.64" height="2.64" fill="#fff"/></pattern>
<rect x="205.20" y="609.80" width="17.50" height="98.90" fill="url(#pc15)" stroke="#000" stroke-width="2.0"/>
<line x1="213.45" y1="610.2" x2="213.45" y2="605.65" stroke="#000" stroke-width="1.7"/>
<line x1="208.95" y1="605.65" x2="217.95" y2="605.65" stroke="#000" stroke-width="1.7"/>
<pattern id="pc16" x="226.30" y="0" width="3.25" height="4" patternUnits="userSpaceOnUse"><rect width="3.25" height="4" fill="#fff"/><rect width="1.05" height="4" fill="#3a3a3a"/></pattern>
<rect x="222.70" y="588.30" width="16.80" height="120.40" fill="url(#pc16)" stroke="#000" stroke-width="2.0"/>
<line x1="230.6" y1="588.7" x2="230.6" y2="587.15" stroke="#000" stroke-width="1.7"/>
<line x1="226.1" y1="587.15" x2="235.1" y2="587.15" stroke="#000" stroke-width="1.7"/>
<rect x="239.50" y="578.30" width="17.80" height="130.40" fill="#000" stroke="#000" stroke-width="2.0"/>
<line x1="57" y1="708.7" x2="267" y2="708.7" stroke="#000" stroke-width="2.0"/>
<line x1="57.9" y1="573.8000000000001" x2="57.9" y2="709.7" stroke="#000" stroke-width="2.0"/>
<line x1="53.4" y1="574.6" x2="57.9" y2="574.6" stroke="#000" stroke-width="2.0"/>
<text id="axE_0" x="52.49" y="578.80" font-family='"Liberation Serif", serif' font-size="17.40" text-anchor="end" fill="#000">100</text>
<line x1="53.4" y1="608.1" x2="57.9" y2="608.1" stroke="#000" stroke-width="2.0"/>
<text id="axE_1" x="52.49" y="612.30" font-family='"Liberation Serif", serif' font-size="17.40" text-anchor="end" fill="#000">75</text>
<line x1="53.4" y1="641.6" x2="57.9" y2="641.6" stroke="#000" stroke-width="2.0"/>
<text id="axE_2" x="52.49" y="645.80" font-family='"Liberation Serif", serif' font-size="17.40" text-anchor="end" fill="#000">50</text>
<line x1="53.4" y1="675.1" x2="57.9" y2="675.1" stroke="#000" stroke-width="2.0"/>
<text id="axE_3" x="52.49" y="679.30" font-family='"Liberation Serif", serif' font-size="17.40" text-anchor="end" fill="#000">25</text>
<line x1="53.4" y1="708.7" x2="57.9" y2="708.7" stroke="#000" stroke-width="2.0"/>
<text id="axE_4" x="52.49" y="712.90" font-family='"Liberation Serif", serif' font-size="17.40" text-anchor="end" fill="#000">0</text>
<line x1="110" y1="708.7" x2="110" y2="713.2" stroke="#000" stroke-width="1.8"/>
<line x1="214.25" y1="708.7" x2="214.25" y2="713.2" stroke="#000" stroke-width="1.8"/>
<text id="xE4" x="109.56" y="723.56" font-family='"Liberation Serif", serif' font-size="16.65" text-anchor="middle" font-weight="normal" fill="#000">CD4</text>
<text id="xE8" x="213.68" y="724.60" font-family='"Liberation Serif", serif' font-size="17.48" text-anchor="middle" font-weight="normal" fill="#000">CD8</text>
<line x1="68.7" y1="577.3" x2="80.8" y2="577.3" stroke="#000" stroke-width="2.0"/>
<polyline points="75.9,577.3 75.9,569.8 121.5,569.8 121.5,591.9" fill="none" stroke="#000" stroke-width="2.0" stroke-linejoin="miter" stroke-linecap="square"/>
<polyline points="96.3,600.5 96.3,591.9 151.2,591.9 151.2,600.5" fill="none" stroke="#000" stroke-width="2.0" stroke-linejoin="miter" stroke-linecap="square"/>
<line x1="172.5" y1="566.2" x2="185.6" y2="566.2" stroke="#000" stroke-width="2.0"/>
<polyline points="179.6,566.2 179.6,549.2 214.4,549.2 214.4,562.3" fill="none" stroke="#000" stroke-width="2.0" stroke-linejoin="miter" stroke-linecap="square"/>
<polyline points="194.6,571.5 194.6,562.3 233.1,562.3 233.1,571.5" fill="none" stroke="#000" stroke-width="2.0" stroke-linejoin="miter" stroke-linecap="square"/>
<g><path d="M96.90,553.00L96.90,549.90M97.33,553.25L100.02,551.70M97.33,553.75L100.02,555.30M96.90,554.00L96.90,557.10M96.47,553.75L93.78,555.30M96.47,553.25L93.78,551.70" stroke="#2a2a2a" stroke-width="0.85" fill="none"/><circle cx="96.90" cy="550.60" r="1.05" fill="#2a2a2a"/><circle cx="99.41" cy="552.05" r="1.05" fill="#2a2a2a"/><circle cx="99.41" cy="554.95" r="1.05" fill="#2a2a2a"/><circle cx="96.90" cy="556.40" r="1.05" fill="#2a2a2a"/><circle cx="94.39" cy="554.95" r="1.05" fill="#2a2a2a"/><circle cx="94.39" cy="552.05" r="1.05" fill="#2a2a2a"/></g>
<g><path d="M195.20,534.90L195.20,531.80M195.63,535.15L198.32,533.60M195.63,535.65L198.32,537.20M195.20,535.90L195.20,539.00M194.77,535.65L192.08,537.20M194.77,535.15L192.08,533.60" stroke="#2a2a2a" stroke-width="0.85" fill="none"/><circle cx="195.20" cy="532.50" r="1.05" fill="#2a2a2a"/><circle cx="197.71" cy="533.95" r="1.05" fill="#2a2a2a"/><circle cx="197.71" cy="536.85" r="1.05" fill="#2a2a2a"/><circle cx="195.20" cy="538.30" r="1.05" fill="#2a2a2a"/><circle cx="192.69" cy="536.85" r="1.05" fill="#2a2a2a"/><circle cx="192.69" cy="533.95" r="1.05" fill="#2a2a2a"/></g>
<text id="lF" x="287.54" y="538.47" font-family='"Liberation Sans", sans-serif' font-size="18.00" text-anchor="start" font-weight="bold" fill="#000">F</text>
<text id="tF" x="415.94" y="544.61" font-family='"Liberation Sans", sans-serif' font-size="16.00" text-anchor="start" font-weight="normal" fill="#000">Bcl-X<tspan font-size="0.68em" dy="3.8">L</tspan></text>
<text id="yF" transform="translate(326.10,675.88) rotate(-90)" font-family='"Liberation Sans", sans-serif' font-size="17.75" fill="#000">Bcl-X<tspan font-size="0.66em" dy="4.4">L</tspan><tspan dy="-4.4"> (%)</tspan></text>
<rect x="375.00" y="582.60" width="19.20" height="122.80" fill="url(#pg)" stroke="#000" stroke-width="2.0"/>
<pattern id="pc17" x="395.20" y="642.10" width="5.28" height="5.28" patternUnits="userSpaceOnUse"><rect width="5.28" height="5.28" fill="#000"/><rect width="2.64" height="2.64" fill="#fff"/><rect x="2.64" y="2.64" width="2.64" height="2.64" fill="#fff"/></pattern>
<rect x="394.20" y="641.10" width="19.60" height="64.30" fill="url(#pc17)" stroke="#000" stroke-width="2.0"/>
<line x1="403.5" y1="641.5" x2="403.5" y2="626.15" stroke="#000" stroke-width="1.7"/>
<line x1="398.5" y1="626.15" x2="408.5" y2="626.15" stroke="#000" stroke-width="1.7"/>
<rect x="413.80" y="620.60" width="18.50" height="84.80" fill="#000" stroke="#000" stroke-width="2.0"/>
<line x1="423.3" y1="621.0" x2="423.3" y2="618.35" stroke="#000" stroke-width="1.7"/>
<line x1="418.3" y1="618.35" x2="428.3" y2="618.35" stroke="#000" stroke-width="1.7"/>
<rect x="451.10" y="582.60" width="19.10" height="122.80" fill="url(#pg)" stroke="#000" stroke-width="2.0"/>
<pattern id="pc18" x="471.20" y="640.10" width="5.28" height="5.28" patternUnits="userSpaceOnUse"><rect width="5.28" height="5.28" fill="#000"/><rect width="2.64" height="2.64" fill="#fff"/><rect x="2.64" y="2.64" width="2.64" height="2.64" fill="#fff"/></pattern>
<rect x="470.20" y="639.10" width="19.90" height="66.30" fill="url(#pc18)" stroke="#000" stroke-width="2.0"/>
<line x1="479.65" y1="639.5" x2="479.65" y2="624.5500000000001" stroke="#000" stroke-width="1.7"/>
<line x1="474.65" y1="624.5500000000001" x2="484.65" y2="624.5500000000001" stroke="#000" stroke-width="1.7"/>
<rect x="490.10" y="628.30" width="18.20" height="77.10" fill="#000" stroke="#000" stroke-width="2.0"/>
<line x1="499.45000000000005" y1="628.7" x2="499.45000000000005" y2="624.5500000000001" stroke="#000" stroke-width="1.7"/>
<line x1="494.45000000000005" y1="624.5500000000001" x2="504.45000000000005" y2="624.5500000000001" stroke="#000" stroke-width="1.7"/>
<line x1="365" y1="705.4" x2="517" y2="705.4" stroke="#000" stroke-width="2.0"/>
<line x1="365.6" y1="579.7" x2="365.6" y2="706.4" stroke="#000" stroke-width="2.0"/>
<line x1="361.1" y1="580.5" x2="365.6" y2="580.5" stroke="#000" stroke-width="2.0"/>
<text id="axF_0" x="360.46" y="584.70" font-family='"Liberation Serif", serif' font-size="18.23" text-anchor="end" fill="#000">100</text>
<line x1="361.1" y1="605.4" x2="365.6" y2="605.4" stroke="#000" stroke-width="2.0"/>
<text id="axF_1" x="360.46" y="609.60" font-family='"Liberation Serif", serif' font-size="18.23" text-anchor="end" fill="#000">80</text>
<line x1="361.1" y1="630.6" x2="365.6" y2="630.6" stroke="#000" stroke-width="2.0"/>
<text id="axF_2" x="360.46" y="634.80" font-family='"Liberation Serif", serif' font-size="18.23" text-anchor="end" fill="#000">60</text>
<line x1="361.1" y1="655.6" x2="365.6" y2="655.6" stroke="#000" stroke-width="2.0"/>
<text id="axF_3" x="360.46" y="659.80" font-family='"Liberation Serif", serif' font-size="18.23" text-anchor="end" fill="#000">40</text>
<line x1="361.1" y1="680.4" x2="365.6" y2="680.4" stroke="#000" stroke-width="2.0"/>
<text id="axF_4" x="360.46" y="684.60" font-family='"Liberation Serif", serif' font-size="18.23" text-anchor="end" fill="#000">20</text>
<line x1="361.1" y1="705.4" x2="365.6" y2="705.4" stroke="#000" stroke-width="2.0"/>
<text id="axF_5" x="360.46" y="709.60" font-family='"Liberation Serif", serif' font-size="18.23" text-anchor="end" fill="#000">0</text>
<line x1="403.5" y1="705.4" x2="403.5" y2="709.9" stroke="#000" stroke-width="1.8"/>
<line x1="479.5" y1="705.4" x2="479.5" y2="709.9" stroke="#000" stroke-width="1.8"/>
<text id="xF4" x="402.87" y="724.18" font-family='"Liberation Serif", serif' font-size="18.53" text-anchor="middle" font-weight="normal" fill="#000">CD4</text>
<text id="xF8" x="479.22" y="723.31" font-family='"Liberation Serif", serif' font-size="17.90" text-anchor="middle" font-weight="normal" fill="#000">CD8</text>
<line x1="378.3" y1="571" x2="390.3" y2="571" stroke="#000" stroke-width="2.0"/>
<polyline points="385,571 385,557.2 414.3,557.2 414.3,595.5" fill="none" stroke="#000" stroke-width="2.0" stroke-linejoin="miter" stroke-linecap="square"/>
<line x1="401.3" y1="595.5" x2="428.5" y2="595.5" stroke="#000" stroke-width="2.0"/>
<line x1="456.7" y1="571.7" x2="468.9" y2="571.7" stroke="#000" stroke-width="2.0"/>
<polyline points="463.5,571.7 463.5,558.5 492.5,558.5 492.5,597.3" fill="none" stroke="#000" stroke-width="2.0" stroke-linejoin="miter" stroke-linecap="square"/>
<line x1="479.6" y1="597.3" x2="506.5" y2="597.3" stroke="#000" stroke-width="2.0"/>
<g><path d="M397.60,545.50L397.60,542.40M398.03,545.75L400.72,544.20M398.03,546.25L400.72,547.80M397.60,546.50L397.60,549.60M397.17,546.25L394.48,547.80M397.17,545.75L394.48,544.20" stroke="#2a2a2a" stroke-width="0.85" fill="none"/><circle cx="397.60" cy="543.10" r="1.05" fill="#2a2a2a"/><circle cx="400.11" cy="544.55" r="1.05" fill="#2a2a2a"/><circle cx="400.11" cy="547.45" r="1.05" fill="#2a2a2a"/><circle cx="397.60" cy="548.90" r="1.05" fill="#2a2a2a"/><circle cx="395.09" cy="547.45" r="1.05" fill="#2a2a2a"/><circle cx="395.09" cy="544.55" r="1.05" fill="#2a2a2a"/></g>
<g><path d="M476.10,547.00L476.10,543.90M476.53,547.25L479.22,545.70M476.53,547.75L479.22,549.30M476.10,548.00L476.10,551.10M475.67,547.75L472.98,549.30M475.67,547.25L472.98,545.70" stroke="#2a2a2a" stroke-width="0.85" fill="none"/><circle cx="476.10" cy="544.60" r="1.05" fill="#2a2a2a"/><circle cx="478.61" cy="546.05" r="1.05" fill="#2a2a2a"/><circle cx="478.61" cy="548.95" r="1.05" fill="#2a2a2a"/><circle cx="476.10" cy="550.40" r="1.05" fill="#2a2a2a"/><circle cx="473.59" cy="548.95" r="1.05" fill="#2a2a2a"/><circle cx="473.59" cy="546.05" r="1.05" fill="#2a2a2a"/></g>
<rect x="47.20" y="751.60" width="19.10" height="8.80" fill="#fff" stroke="#000" stroke-width="2"/>
<text id="LB1" x="71.91" y="762.30" font-family='"Liberation Sans", sans-serif' font-size="15.90" text-anchor="start" font-weight="normal" fill="#000">Normal</text>
<rect x="155.80" y="752.20" width="19.70" height="9.00" fill="url(#p14)" stroke="#000" stroke-width="2"/>
<text id="LB2" x="180.67" y="762.50" font-family='"Liberation Sans", sans-serif' font-size="15.70" text-anchor="start" font-weight="normal" fill="#000">Day 14</text>
<pattern id="pc19" x="159.40" y="0" width="3.25" height="4" patternUnits="userSpaceOnUse"><rect width="3.25" height="4" fill="#fff"/><rect width="1.05" height="4" fill="#3a3a3a"/></pattern>
<rect x="155.80" y="773.50" width="19.70" height="8.80" fill="url(#pc19)" stroke="#000" stroke-width="2"/>
<text id="LB3" x="180.70" y="783.90" font-family='"Liberation Sans", sans-serif' font-size="15.85" text-anchor="start" font-weight="normal" fill="#000">Day 28</text>
<pattern id="pc20" x="259.30" y="753.30" width="5.28" height="5.28" patternUnits="userSpaceOnUse"><rect width="5.28" height="5.28" fill="#000"/><rect width="2.64" height="2.64" fill="#fff"/><rect x="2.64" y="2.64" width="2.64" height="2.64" fill="#fff"/></pattern>
<rect x="258.30" y="752.30" width="18.60" height="8.90" fill="url(#pc20)" stroke="#000" stroke-width="2"/>
<text id="LB4" x="282.67" y="763.20" font-family='"Liberation Sans", sans-serif' font-size="15.38" text-anchor="start" font-weight="normal" fill="#000">Day 21</text>
<rect x="258.30" y="772.60" width="18.60" height="8.80" fill="#000" stroke="#000" stroke-width="2"/>
<text id="LB5" x="282.54" y="783.30" font-family='"Liberation Sans", sans-serif' font-size="15.82" text-anchor="start" font-weight="normal" fill="#000">Day 56</text>
</svg>
</body></html>
